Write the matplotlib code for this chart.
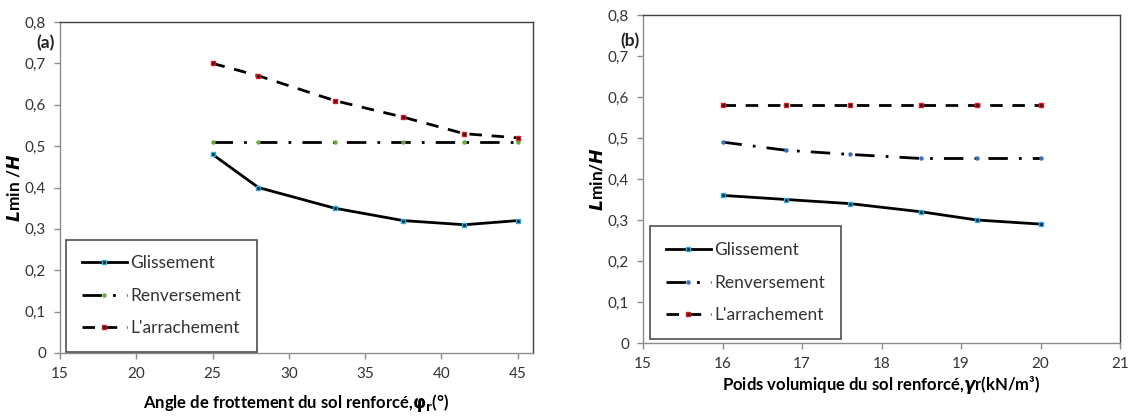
import matplotlib
matplotlib.use("Agg")
import matplotlib.pyplot as plt
from matplotlib.lines import Line2D

plt.rcParams['font.family'] = ['Lato', 'DejaVu Sans']

# Panel (a)
phi = [25, 28, 33, 37.5, 41.5, 45]
a_gliss = [0.48, 0.40, 0.35, 0.32, 0.31, 0.32]
a_renv = [0.51, 0.51, 0.51, 0.51, 0.51, 0.51]
a_arr = [0.70, 0.67, 0.61, 0.57, 0.53, 0.52]

# Panel (b)
gamma = [16, 16.8, 17.6, 18.5, 19.2, 20]
b_gliss = [0.36, 0.35, 0.34, 0.32, 0.30, 0.29]
b_renv = [0.49, 0.47, 0.46, 0.45, 0.45, 0.45]
b_arr = [0.58, 0.58, 0.58, 0.58, 0.58, 0.58]

yticks = [0, 0.1, 0.2, 0.3, 0.4, 0.5, 0.6, 0.7, 0.8]
ytick_labels = ['0', '0,1', '0,2', '0,3', '0,4', '0,5', '0,6', '0,7', '0,8']
legend_labels = ['Glissement', 'Renversement', "L'arrachement"]

W, H = 1129, 419
fig = plt.figure(figsize=(11.29, 4.19), dpi=100)
axA = fig.add_axes([60 / W, 1 - 353 / H, (533 - 60) / W, (353 - 22) / H])
axB = fig.add_axes([643 / W, 1 - 343 / H, (1120 - 643) / W, (343 - 15) / H])

dashdot = (0, (7, 4, 1, 4))
dashed = (0, (4.5, 3.5))

def style(ax, xlim, xticks):
    ax.set_xlim(*xlim)
    ax.set_ylim(0, 0.8)
    ax.set_xticks(xticks)
    ax.set_xticklabels([str(t) for t in xticks])
    ax.set_yticks(yticks)
    ax.set_yticklabels(ytick_labels)
    for k, s in ax.spines.items():
        s.set_linewidth(1.0)
        s.set_color('#8c8c8c' if k in ('left', 'bottom') else '#404040')
    ax.tick_params(axis='both', direction='out', length=4, width=1,
                   color='#8c8c8c', labelsize=11, labelcolor='#333333', pad=6)

G_KW = dict(color='black', lw=2, ls='-', marker='s', ms=3,
            mfc='#1a1a1a', mec='#22b0e8', mew=1.0)
A_KW = dict(color='black', lw=2, ls=dashed, marker='s', ms=3,
            mfc='#1a1a1a', mec='#e8141e', mew=1.0)

def r_kw(rcol):
    return dict(color='black', lw=2, ls=dashdot, marker='o', ms=2.2,
                mfc=rcol, mec=rcol)

def plot_panel(ax, x, g, r, a, rcol):
    ax.plot(x, g, zorder=3, **G_KW)
    ax.plot(x, r, zorder=3, **r_kw(rcol))
    ax.plot(x, a, zorder=3, **A_KW)

def legend(ax, rcol, loc_box):
    handles = [Line2D([], [], **G_KW), Line2D([], [], **r_kw(rcol)),
               Line2D([], [], **A_KW)]
    leg = ax.legend(handles, legend_labels, loc='lower left', bbox_to_anchor=loc_box,
                    fontsize=12.5, frameon=True, fancybox=False, handlelength=2.6,
                    handletextpad=0.2, labelspacing=0.95, borderpad=0.9,
                    borderaxespad=0)
    leg.get_frame().set_edgecolor('#222222')
    leg.get_frame().set_linewidth(1.2)
    for t in leg.get_texts():
        t.set_color('#333333')

style(axA, (15, 46), [15, 20, 25, 30, 35, 40, 45])
plot_panel(axA, phi, a_gliss, a_renv, a_arr, '#6aaa3a')
legend(axA, '#6aaa3a', (0.013, 0.003))
fig.text(36 / W, 1 - 35 / H, '(a)', fontsize=12.5, fontweight='bold',
         va='top', ha='left', color='#222222')
axA.set_xlabel(r'Angle de frottement du sol renforcé,$\boldsymbol{\varphi}_{\mathbf{r}}$(°)',
               fontsize=12, fontweight='bold', labelpad=8)
axA.set_ylabel(r'$\boldsymbol{L}$min /$\boldsymbol{H}$', fontsize=12.5, fontweight='bold', labelpad=2)

style(axB, (15, 21), [15, 16, 17, 18, 19, 20, 21])
plot_panel(axB, gamma, b_gliss, b_renv, b_arr, '#3a6fbf')
legend(axB, '#3a6fbf', (0.015, 0.013))
fig.text(620 / W, 1 - 33 / H, '(b)', fontsize=12.5, fontweight='bold',
         va='top', ha='left', color='#222222')
axB.set_xlabel(r'Poids volumique du sol renforcé,$\boldsymbol{\gamma}$r(kN/m³)',
               fontsize=12, fontweight='bold', labelpad=2)
axB.set_ylabel(r'$\boldsymbol{L}$min/$\boldsymbol{H}$', fontsize=12.5, fontweight='bold', labelpad=2)

fig.savefig('out.png', dpi=100)
